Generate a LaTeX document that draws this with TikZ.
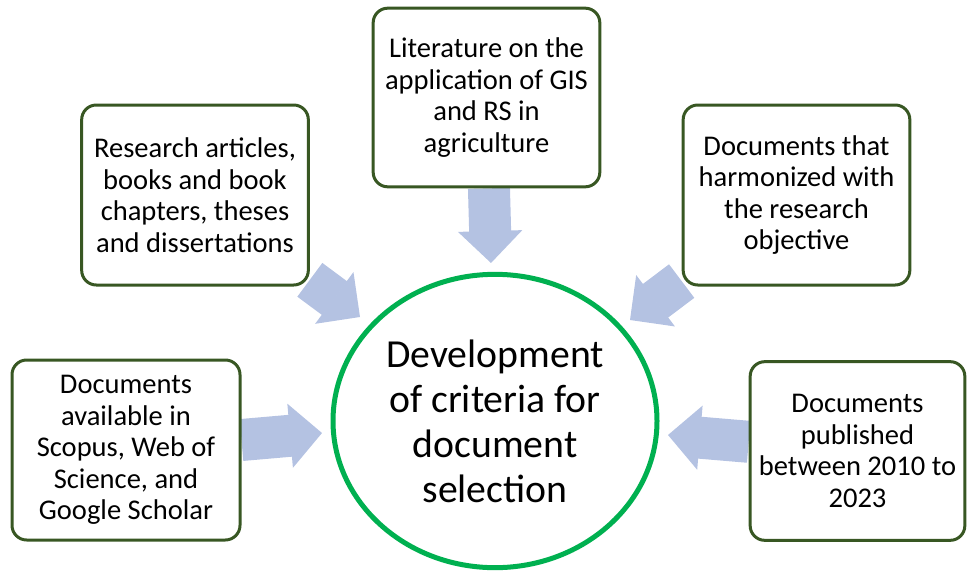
\documentclass[tikz,border=0pt]{standalone}
\usepackage{fontspec}
\setmainfont{Carlito}
\usetikzlibrary{arrows.meta,backgrounds,shapes.geometric}
\definecolor{boxgreen}{HTML}{385723}
\definecolor{ringgreen}{HTML}{00B050}
\definecolor{arrowblue}{HTML}{B4C2E2}

\begin{document}
\begin{tikzpicture}[x=0.75pt, y=-0.75pt,
    source/.style={draw=boxgreen, line width=2.25pt, fill=white, rounded corners=11pt,
      align=center, inner sep=0pt, font=\fontsize{21.4}{23.6}\selectfont},
    criteria/.style={draw=ringgreen, line width=3.75pt, ellipse, fill=white,
      minimum width=243pt, minimum height=220pt, align=center, inner sep=0pt,
      font=\fontsize{29.8}{33.8}\selectfont},
    flowarrow/.style={draw=arrowblue, line width=31.5pt,
      -{Triangle[width=48pt, length=24pt, line width=1.5pt, fill=arrowblue]}}]
\useasboundingbox (0,0) rectangle (971,571);

\node[criteria] (crit) at (495,421) {Development\\of criteria for\\document\\selection};

\node[source, minimum width=171pt, minimum height=135pt] (scopus) at (126,450)
  {Documents\\available in\\Scopus, Web of\\Science, and\\Google Scholar};
\node[source, minimum width=170pt, minimum height=135pt] (research) at (195,195)
  {Research articles,\\books and book\\chapters, theses\\and dissertations};
\node[source, minimum width=170pt, minimum height=134pt] (literature) at (486.5,97.5)
  {Literature on the\\application of GIS\\and RS in\\agriculture};
\node[source, minimum width=170pt, minimum height=135pt] (harmonized) at (796.5,195)
  {Documents that\\harmonized with\\the research\\objective};
\node[source, minimum width=161pt, minimum height=134pt] (published) at (857.5,451)
  {Documents\\published\\between 2010 to\\2023};

\coordinate (tipS) at (322,433);
\coordinate (tipR) at (360,317);
\coordinate (tipL) at (491,263);
\coordinate (tipH) at (630,320);
\coordinate (tipP) at (668,435);

\begin{scope}[on background layer]
\draw[flowarrow] (scopus) -- (tipS);
\draw[flowarrow] (research) -- (tipR);
\draw[flowarrow] (literature) -- (tipL);
\draw[flowarrow] (harmonized) -- (tipH);
\draw[flowarrow] (published) -- (tipP);
\end{scope}
\end{tikzpicture}
\end{document}
